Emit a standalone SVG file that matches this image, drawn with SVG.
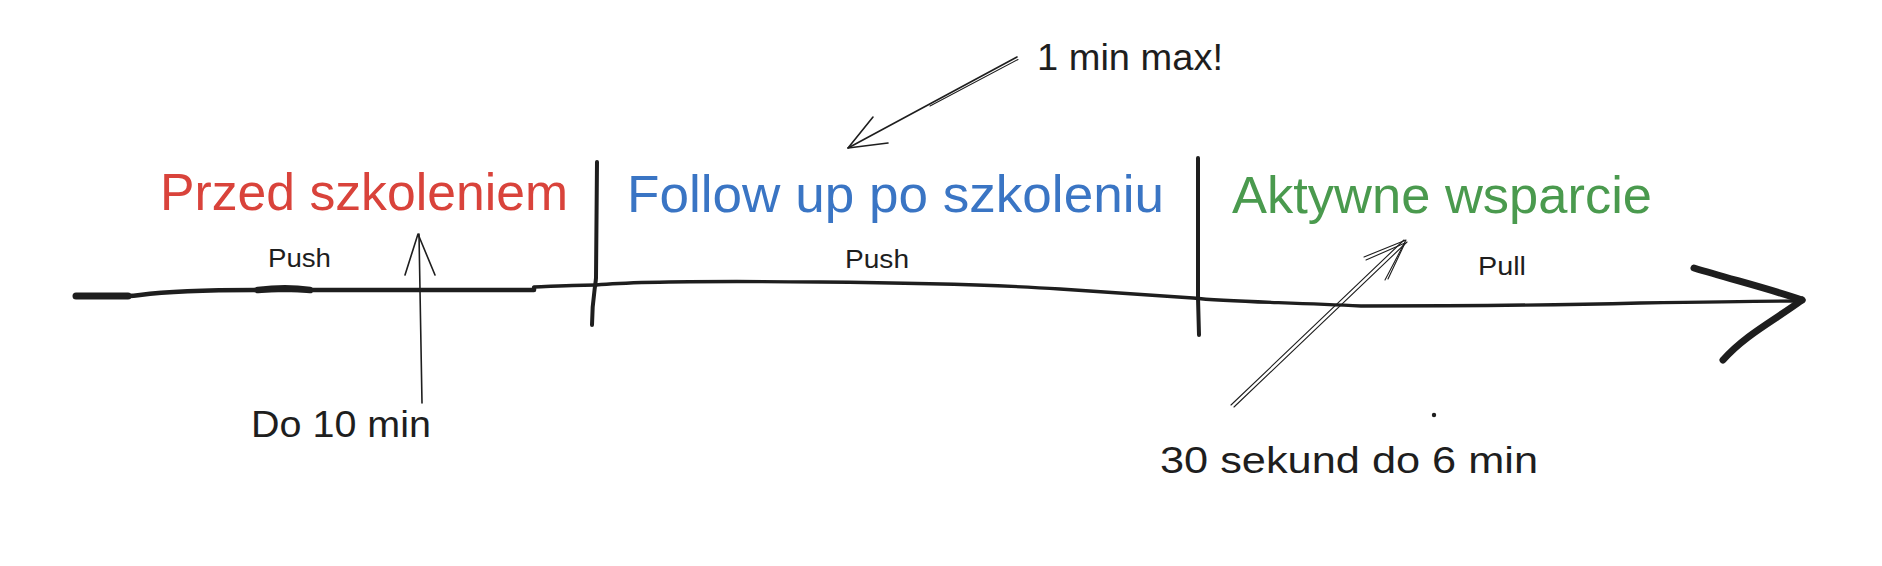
<svg xmlns="http://www.w3.org/2000/svg" width="1882" height="566" viewBox="0 0 1882 566">
<style>
.t{font-family:"Liberation Sans",Arial,sans-serif;fill:#1e1e1e}
.ttl{font-size:52px}
.sm{font-size:26px}
.md{font-size:36px}
.ln{fill:none;stroke:#1e1e1e;stroke-linecap:round;stroke-linejoin:round}
.thin{stroke-width:1.6}
.hair{stroke-width:1.1}
</style>
<rect width="1882" height="566" fill="#ffffff"/>
<g id="connectors">
  <g id="timeline">
    <path class="ln" stroke-width="7" d="M76,296 L128,296"/>
    <path class="ln" stroke-width="4.5" d="M76,296 C110,297 125,297 140,295 C170,291 210,290 255,290"/>
    <path class="ln" stroke-width="6.5" d="M258,290 C275,288 295,288 310,290"/>
    <path class="ln" stroke-width="4.5" d="M255,290 L534,290 L534,288"/>
    <path class="ln" stroke-width="3.5" d="M534,287 C560,286 580,285 596,285"/>
    <path class="ln" stroke-width="3.4" d="M596,285 C640,281 720,281 820,282 C930,283 1000,285 1060,289 C1120,293 1160,296 1193,298 C1230,302 1280,302 1361,306 C1450,306 1560,305 1640,303 C1700,302 1760,301 1802,301"/>
    <path class="ln" stroke-width="7" d="M1694,268 C1730,279 1770,289 1802,300"/>
    <path class="ln" stroke-width="7" d="M1802,300 C1775,320 1745,335 1723,360"/>
  </g>
  <g id="divider-1">
    <path class="ln" stroke-width="4" d="M597,162 L596,278 C595,290 592,300 592,325"/>
  </g>
  <g id="divider-2">
    <path class="ln" stroke-width="4" d="M1198,158 L1198,298 L1199,335"/>
  </g>
  <g id="arrow-1min">
    <path class="ln thin" d="M1017,57 L848,148"/>
    <path class="ln hair" d="M1018,59.5 L930,106"/>
    <path class="ln thin" d="M873,117 L848,148 L888,143"/>
  </g>
  <g id="arrow-10min">
    <path class="ln thin" d="M422,403 L419,234"/>
    <path class="ln thin" d="M405,275 L418,234 L435,275"/>
  </g>
  <g id="arrow-30s">
    <path class="ln hair" d="M1231,405 L1404,240"/>
    <path class="ln hair" d="M1234,407 L1407,242"/>
    <path class="ln hair" d="M1364,257 L1406,240 L1385,280"/>
    <path class="ln hair" d="M1366,260 L1405,243 L1388,279"/>
  </g>
  <circle cx="1434" cy="415" r="2.2" fill="#1e1e1e"/>
</g>
<g id="przed">
  <text class="t ttl" x="160" y="210" textLength="408" lengthAdjust="spacingAndGlyphs" style="fill:#d9433b">Przed szkoleniem</text>
</g>
<g id="follow">
  <text class="t ttl" x="627" y="212" textLength="537" lengthAdjust="spacingAndGlyphs" style="fill:#3a75c4">Follow up po szkoleniu</text>
</g>
<g id="aktywne">
  <text class="t ttl" x="1232" y="213" textLength="420" lengthAdjust="spacingAndGlyphs" style="fill:#4a9a4e">Aktywne wsparcie</text>
</g>
<g id="push-1">
  <text class="t sm" x="268" y="267" textLength="63" lengthAdjust="spacingAndGlyphs">Push</text>
</g>
<g id="push-2">
  <text class="t sm" x="845" y="268" textLength="64" lengthAdjust="spacingAndGlyphs">Push</text>
</g>
<g id="pull">
  <text class="t sm" x="1478" y="275" textLength="48" lengthAdjust="spacingAndGlyphs">Pull</text>
</g>
<g id="label-1min">
  <text class="t md" x="1037" y="70" textLength="186" lengthAdjust="spacingAndGlyphs">1 min max!</text>
</g>
<g id="label-10min">
  <text class="t md" x="251" y="437" textLength="180" lengthAdjust="spacingAndGlyphs">Do 10 min</text>
</g>
<g id="label-30s">
  <text class="t md" x="1160" y="473" textLength="378" lengthAdjust="spacingAndGlyphs">30 sekund do 6 min</text>
</g>
</svg>
